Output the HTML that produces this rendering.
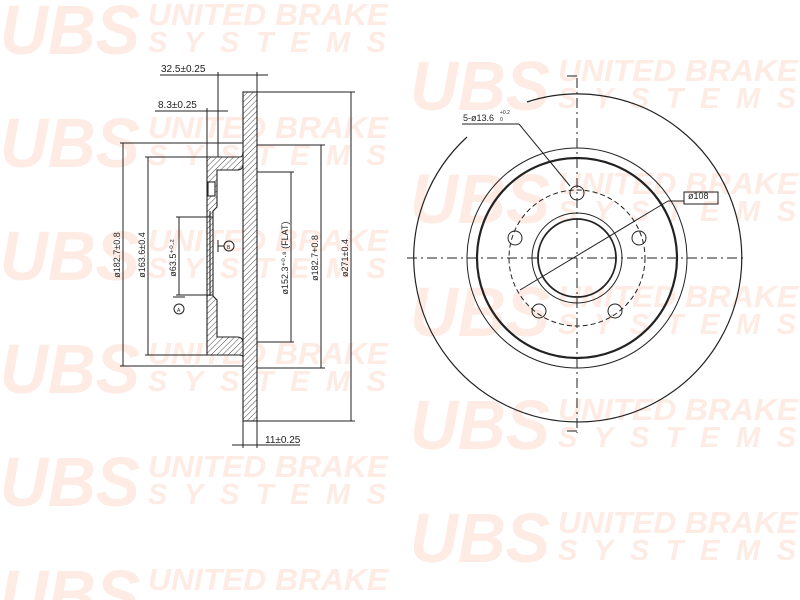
<!DOCTYPE html>
<html><head><meta charset="utf-8"><style>
html,body{margin:0;padding:0;background:#fff;width:800px;height:600px;overflow:hidden;}
svg{display:block}
.u{font-family:"Liberation Sans",sans-serif;font-style:italic;font-weight:bold;fill:#fdebe4;}
.t{font-family:"Liberation Sans",sans-serif;font-size:10px;fill:#222;}
</style></head><body>
<svg width="800" height="600" viewBox="0 0 800 600" xmlns="http://www.w3.org/2000/svg">
<defs>
<pattern id="h" patternUnits="userSpaceOnUse" width="4" height="4" patternTransform="rotate(45)">
<rect width="4" height="4" fill="#fff"/><line x1="0" y1="0" x2="0" y2="4" stroke="#333" stroke-width="0.9"/>
</pattern>
</defs>
<g>
<g transform="translate(0,0)"><text class="u" x="0" y="54" font-size="70" textLength="140" lengthAdjust="spacingAndGlyphs">UBS</text><text class="u" x="148" y="25" font-size="31" textLength="240" lengthAdjust="spacingAndGlyphs">UNITED BRAKE</text><text class="u" x="148" y="52" font-size="29" textLength="238" lengthAdjust="spacing">SYSTEMS</text></g>
<g transform="translate(0,113)"><text class="u" x="0" y="54" font-size="70" textLength="140" lengthAdjust="spacingAndGlyphs">UBS</text><text class="u" x="148" y="25" font-size="31" textLength="240" lengthAdjust="spacingAndGlyphs">UNITED BRAKE</text><text class="u" x="148" y="52" font-size="29" textLength="238" lengthAdjust="spacing">SYSTEMS</text></g>
<g transform="translate(0,226)"><text class="u" x="0" y="54" font-size="70" textLength="140" lengthAdjust="spacingAndGlyphs">UBS</text><text class="u" x="148" y="25" font-size="31" textLength="240" lengthAdjust="spacingAndGlyphs">UNITED BRAKE</text><text class="u" x="148" y="52" font-size="29" textLength="238" lengthAdjust="spacing">SYSTEMS</text></g>
<g transform="translate(0,339)"><text class="u" x="0" y="54" font-size="70" textLength="140" lengthAdjust="spacingAndGlyphs">UBS</text><text class="u" x="148" y="25" font-size="31" textLength="240" lengthAdjust="spacingAndGlyphs">UNITED BRAKE</text><text class="u" x="148" y="52" font-size="29" textLength="238" lengthAdjust="spacing">SYSTEMS</text></g>
<g transform="translate(0,452)"><text class="u" x="0" y="54" font-size="70" textLength="140" lengthAdjust="spacingAndGlyphs">UBS</text><text class="u" x="148" y="25" font-size="31" textLength="240" lengthAdjust="spacingAndGlyphs">UNITED BRAKE</text><text class="u" x="148" y="52" font-size="29" textLength="238" lengthAdjust="spacing">SYSTEMS</text></g>
<g transform="translate(0,565)"><text class="u" x="0" y="54" font-size="70" textLength="140" lengthAdjust="spacingAndGlyphs">UBS</text><text class="u" x="148" y="25" font-size="31" textLength="240" lengthAdjust="spacingAndGlyphs">UNITED BRAKE</text></g>
<g transform="translate(410,56)"><text class="u" x="0" y="54" font-size="70" textLength="140" lengthAdjust="spacingAndGlyphs">UBS</text><text class="u" x="148" y="25" font-size="31" textLength="240" lengthAdjust="spacingAndGlyphs">UNITED BRAKE</text><text class="u" x="148" y="52" font-size="29" textLength="238" lengthAdjust="spacing">SYSTEMS</text></g>
<g transform="translate(410,169)"><text class="u" x="0" y="54" font-size="70" textLength="140" lengthAdjust="spacingAndGlyphs">UBS</text><text class="u" x="148" y="25" font-size="31" textLength="240" lengthAdjust="spacingAndGlyphs">UNITED BRAKE</text><text class="u" x="148" y="52" font-size="29" textLength="238" lengthAdjust="spacing">SYSTEMS</text></g>
<g transform="translate(410,282)"><text class="u" x="0" y="54" font-size="70" textLength="140" lengthAdjust="spacingAndGlyphs">UBS</text><text class="u" x="148" y="25" font-size="31" textLength="240" lengthAdjust="spacingAndGlyphs">UNITED BRAKE</text><text class="u" x="148" y="52" font-size="29" textLength="238" lengthAdjust="spacing">SYSTEMS</text></g>
<g transform="translate(410,395)"><text class="u" x="0" y="54" font-size="70" textLength="140" lengthAdjust="spacingAndGlyphs">UBS</text><text class="u" x="148" y="25" font-size="31" textLength="240" lengthAdjust="spacingAndGlyphs">UNITED BRAKE</text><text class="u" x="148" y="52" font-size="29" textLength="238" lengthAdjust="spacing">SYSTEMS</text></g>
<g transform="translate(410,508)"><text class="u" x="0" y="54" font-size="70" textLength="140" lengthAdjust="spacingAndGlyphs">UBS</text><text class="u" x="148" y="25" font-size="31" textLength="240" lengthAdjust="spacingAndGlyphs">UNITED BRAKE</text><text class="u" x="148" y="52" font-size="29" textLength="238" lengthAdjust="spacing">SYSTEMS</text></g>
</g>

<!-- section view -->
<g stroke="#222" stroke-width="1.1">
<rect x="243" y="92" width="14" height="329" fill="url(#h)"/>
<path d="M207,157 H240 Q243,157 243,152 V164 Q243,170 237,170 H217 V207 L213,211 V296 L217,300 V337 H237 Q243,337 243,343 V357 Q243,355 239,355 H207 Z" fill="url(#h)"/>
<rect x="208" y="182" width="7" height="14" fill="#fff"/>
<line x1="210" y1="211" x2="210" y2="296"/>
</g>
<g stroke="#222" stroke-width="1" fill="none">
<line x1="218" y1="72" x2="218" y2="157"/><line x1="257" y1="72" x2="257" y2="92"/>
<line x1="160" y1="75" x2="268" y2="75"/>
<line x1="207" y1="108" x2="207" y2="157"/><line x1="155" y1="111" x2="228" y2="111"/>
<line x1="257" y1="92" x2="355" y2="92"/><line x1="257" y1="421" x2="355" y2="421"/>
<line x1="351" y1="92" x2="351" y2="421"/>
<line x1="257" y1="145" x2="325" y2="145"/><line x1="257" y1="368" x2="325" y2="368"/>
<line x1="321" y1="145" x2="321" y2="368"/>
<line x1="257" y1="172" x2="294" y2="172"/><line x1="257" y1="342" x2="294" y2="342"/>
<line x1="291" y1="172" x2="291" y2="342"/>
<line x1="120" y1="143" x2="243" y2="143"/><line x1="120" y1="366" x2="243" y2="366"/>
<line x1="123" y1="143" x2="123" y2="366"/>
<line x1="145" y1="157" x2="207" y2="157"/><line x1="145" y1="355" x2="207" y2="355"/>
<line x1="148" y1="157" x2="148" y2="355"/>
<line x1="176" y1="217" x2="213" y2="217"/><line x1="176" y1="295" x2="213" y2="295"/>
<line x1="179" y1="217" x2="179" y2="295"/>
<line x1="173" y1="297" x2="185" y2="297"/>
<circle cx="179" cy="309" r="5"/>
<line x1="218" y1="240" x2="218" y2="252"/><line x1="218" y1="246" x2="224" y2="246"/>
<circle cx="229" cy="246" r="5"/>
<line x1="243" y1="421" x2="243" y2="448"/><line x1="257" y1="421" x2="257" y2="448"/>
<line x1="232" y1="445" x2="300" y2="445"/>
</g>
<g class="t">
<text x="161" y="72">32.5±0.25</text>
<text x="158" y="108">8.3±0.25</text>
<text x="265" y="443">11±0.25</text>
<text x="227" y="249" font-size="5">B</text>
<text x="177" y="312" font-size="5">A</text>
<text transform="translate(120,255) rotate(-90)" text-anchor="middle" font-size="9">ø182.7±0.8</text>
<text transform="translate(145,255) rotate(-90)" text-anchor="middle" font-size="9">ø163.6±0.4</text>
<text transform="translate(176,258) rotate(-90)" text-anchor="middle" font-size="9">ø63.5⁺⁰·²</text>
<text transform="translate(288,258) rotate(-90)" text-anchor="middle" font-size="9">ø152.3⁺⁰·⁸ (FLAT)</text>
<text transform="translate(318,258) rotate(-90)" text-anchor="middle" font-size="9">ø182.7+0.8</text>
<text transform="translate(348,258) rotate(-90)" text-anchor="middle" font-size="9">ø271±0.4</text>
</g>

<!-- front view -->
<g stroke="#222" stroke-width="1" fill="none" transform="translate(577,258)">
<path d="M-50,-156 A164,164 0 1 1 -110,-121" stroke-width="1.2"/>
<circle r="110"/>
<circle r="100" stroke-width="2.2"/>
<circle r="68" stroke-dasharray="5,3"/>
<circle r="45"/>
<circle r="39" stroke-width="1.8"/>
<line x1="-170" y1="0" x2="170" y2="0" stroke-dasharray="10,4,2,4"/>
<line x1="0" y1="-180" x2="0" y2="175" stroke-dasharray="10,4,2,4"/>
<path d="M-10,-182 H0 M-10,173 H0"/>
<circle cx="0" cy="-65" r="7"/><circle cx="62" cy="-20" r="7"/><circle cx="38" cy="53" r="7"/><circle cx="-38" cy="53" r="7"/><circle cx="-62" cy="-20" r="7"/>
<line x1="-57" y1="32" x2="91" y2="-57"/>
<line x1="91" y1="-57" x2="107" y2="-57"/>
<rect x="107" y="-66" width="34" height="12"/>
<line x1="-7" y1="-72" x2="-58" y2="-134"/>
<line x1="-58" y1="-134" x2="-115" y2="-134"/>
</g>
<g class="t">
<text x="463" y="121" font-size="9">5-ø13.6</text><text x="500" y="114" font-size="5">+0.2</text><text x="500" y="121" font-size="5">0</text>
<text x="688" y="199" font-size="9">ø108</text>
</g>
</svg>
</body></html>
